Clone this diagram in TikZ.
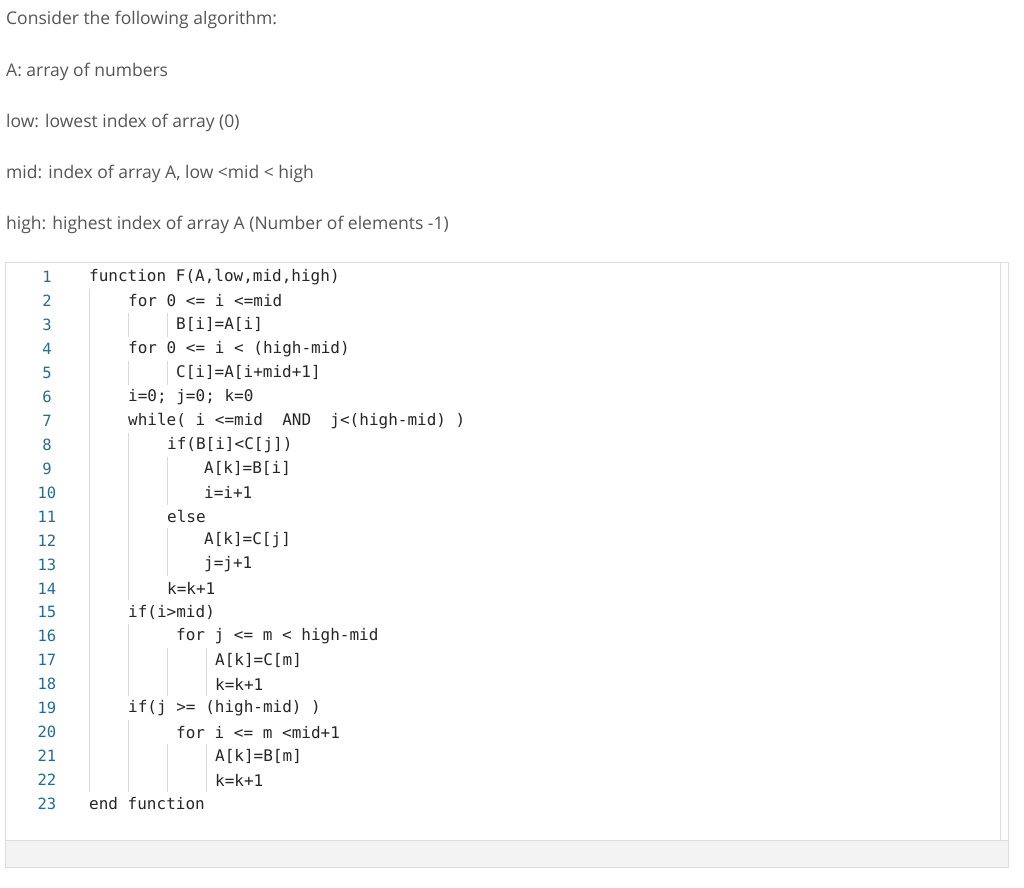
\documentclass[tikz,border=0pt]{standalone}
\usepackage{fontspec}
\setmainfont{Open Sans}
\setmonofont{DejaVu Sans Mono}
\definecolor{hdr}{HTML}{555555}
\definecolor{lnum}{HTML}{2B6A8A}
\definecolor{bord}{HTML}{DDDDDD}
\definecolor{band}{HTML}{F3F3F3}
\definecolor{guide}{HTML}{D8D8D8}
\begin{document}
\begin{tikzpicture}[x=1pt,y=-1pt,
  hd/.style={anchor=west,inner sep=0pt,text=hdr,font=\fontsize{17.5}{20}\selectfont},
  cd/.style={anchor=west,inner sep=0pt,text=black!85,font=\ttfamily\fontsize{16}{18}\selectfont},
  ln/.style={inner sep=0pt,text=lnum,font=\ttfamily\fontsize{15.5}{18}\selectfont},
  gl/.style={draw=guide,line width=0.8pt}]
\useasboundingbox (0,0) rectangle (1024,887);
\node[hd] (h1) at (6,19.5) {Consider the following algorithm:};
\node[hd] (h2) at (6,71.5) {A: array of numbers};
\node[hd] (h3) at (6,122.5) {low: lowest index of array (0)};
\node[hd] (h4) at (6,173.5) {mid: index of array A, low <mid < high};
\node[hd] (h5) at (6,224.5) {high: highest index of array A (Number of elements -1)};
% box
\fill[band] (5,840) rectangle (1008,867);
\draw[bord] (5,262) rectangle (1008,867);
\draw[bord] (5,840) -- (1008,840);
\draw[bord] (1000,262) -- (1000,840);
% guides
\foreach \a/\b/\x in {2/22/89,3/3/128,3/3/167,5/5/128,5/5/167,8/14/128,9/10/167,12/13/167,16/18/128,17/18/167,17/18/206,20/22/128,21/22/167,21/22/206}{
  \draw[gl] (\x,{277+23.95*(\a-1)-12}) -- (\x,{277+23.95*(\b-1)+12});
}
\foreach \i/\x/\t in {1/89/{function F(A,low,mid,high)},2/128/{for 0 <= i <=mid},3/176/{B[i]=A[i]},4/128/{for 0 <= i < (high-mid)},5/176/{C[i]=A[i+mid+1]},6/128/{i=0; j=0; k=0},7/128/{while( i <=mid\ \ AND\ \ j<(high-mid) )},8/167/{if(B[i]<C[j])},9/204/{A[k]=B[i]},10/204/{i=i+1},11/167/{else},12/204/{A[k]=C[j]},13/204/{j=j+1},14/167/{k=k+1},15/128/{if(i>mid)},16/176/{for j <= m < high-mid},17/215/{A[k]=C[m]},18/215/{k=k+1},19/128/{if(j >= (high-mid) )},20/176/{for i <= m <mid+1},21/215/{A[k]=B[m]},22/215/{k=k+1},23/89/{end function}}{
  \node[ln] (n\i) at (47,{277+23.95*(\i-1)}) {\i};
  \node[cd] (c\i) at (\x,{277+23.95*(\i-1)}) {\t};
}
\end{tikzpicture}
\end{document}
